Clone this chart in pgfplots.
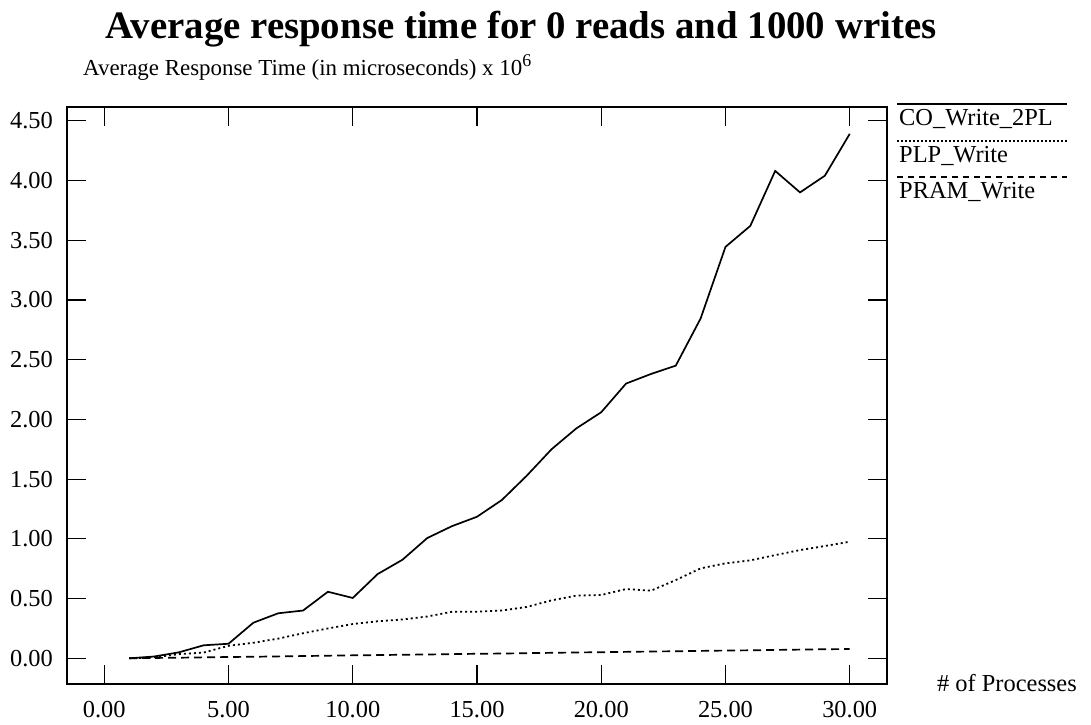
\documentclass[border=0pt]{standalone}
\usepackage{fontspec}
\setmainfont{Liberation Serif}
\usepackage{pgfplots}
\pgfplotsset{compat=1.18}
\begin{document}
\begin{tikzpicture}
\begin{axis}[
  at={(0,0)}, anchor=south west,
  scale only axis, width=820bp, height=577bp,
  xmin=-1.5, xmax=31.5, ymin=-0.215, ymax=4.615,
  xtick={0,5,...,30}, ytick={0,0.5,...,4.5},
  tick align=inside, major tick length=19bp,
  tick style={line width=1.2bp, black},
  axis line style={line width=1.2bp, black},
  /pgf/number format/assume math mode=true,
  xticklabel={\pgfmathprintnumber[fixed,fixed zerofill,precision=2]{\tick}},
  yticklabel={\pgfmathprintnumber[fixed,fixed zerofill,precision=2]{\tick}},
  ticklabel style={font=\fontsize{24.5}{28}\selectfont},
  xticklabel style={anchor=north, inner sep=0pt, yshift=-17bp},
  yticklabel style={anchor=east, inner sep=0pt, xshift=-14bp},
  clip=false,
]
\addplot[black, line width=1.7bp] coordinates {
(1,0.00) (2,0.015) (3,0.05) (4,0.109) (5,0.122) (6,0.298) (7,0.377) (8,0.40) (9,0.557) (10,0.505)
(11,0.705) (12,0.825) (13,1.007) (14,1.107) (15,1.185) (16,1.325) (17,1.528) (18,1.75) (19,1.925) (20,2.06)
(21,2.30) (22,2.38) (23,2.45) (24,2.845) (25,3.444) (26,3.62) (27,4.08) (28,3.90) (29,4.04) (30,4.39)
};
\addplot[black, line width=1.8bp, dash pattern=on 2bp off 3bp] coordinates {
(1,0.00) (2,0.008) (3,0.035) (4,0.048) (5,0.105) (6,0.13) (7,0.165) (8,0.21) (9,0.25) (10,0.287)
(11,0.31) (12,0.325) (13,0.35) (14,0.39) (15,0.39) (16,0.40) (17,0.43) (18,0.485) (19,0.525) (20,0.53)
(21,0.58) (22,0.566) (23,0.655) (24,0.753) (25,0.795) (26,0.82) (27,0.864) (28,0.906) (29,0.94) (30,0.976)
};
\addplot[black, line width=1.7bp, dash pattern=on 8bp off 5bp] coordinates {
(1,0.000) (2,0.003) (3,0.005) (4,0.008) (5,0.011) (6,0.013) (7,0.016) (8,0.019) (9,0.022) (10,0.025)
(11,0.027) (12,0.030) (13,0.032) (14,0.035) (15,0.038) (16,0.040) (17,0.043) (18,0.046) (19,0.049) (20,0.051)
(21,0.054) (22,0.057) (23,0.059) (24,0.062) (25,0.065) (26,0.067) (27,0.070) (28,0.073) (29,0.076) (30,0.078)
};
\end{axis}
% title and labels
\node[anchor=base, inner sep=0pt, font=\fontsize{39}{44}\selectfont\bfseries] at (454bp,645bp) {Average response time for 0 reads and 1000 writes};
\node[anchor=base west, inner sep=0pt, font=\fontsize{23}{27}\selectfont] at (16bp,608bp) {Average Response Time (in microseconds) x 10\raisebox{9bp}{\fontsize{18}{18}\selectfont 6}};
\node[anchor=base west, inner sep=0pt, font=\fontsize{24.5}{28}\selectfont] at (870bp,-7bp) {\# of Processes};
% legend
\draw[black, line width=1.5bp] (830bp,580bp) -- (1000bp,580bp);
\node[anchor=base west, inner sep=0pt, font=\fontsize{24.5}{28}\selectfont] at (832bp,558bp) {CO\_Write\_2PL};
\draw[black, line width=1.5bp, dash pattern=on 1.5bp off 2.5bp] (830bp,543bp) -- (1000bp,543bp);
\node[anchor=base west, inner sep=0pt, font=\fontsize{24.5}{28}\selectfont] at (832bp,521.5bp) {PLP\_Write};
\draw[black, line width=1.5bp, dash pattern=on 6bp off 5bp] (830bp,507bp) -- (1000bp,507bp);
\node[anchor=base west, inner sep=0pt, font=\fontsize{24.5}{28}\selectfont] at (832bp,485bp) {PRAM\_Write};
\pgfresetboundingbox
\path[use as bounding box] (-67bp,-41bp) rectangle (1024bp,684bp);
\end{tikzpicture}
\end{document}
